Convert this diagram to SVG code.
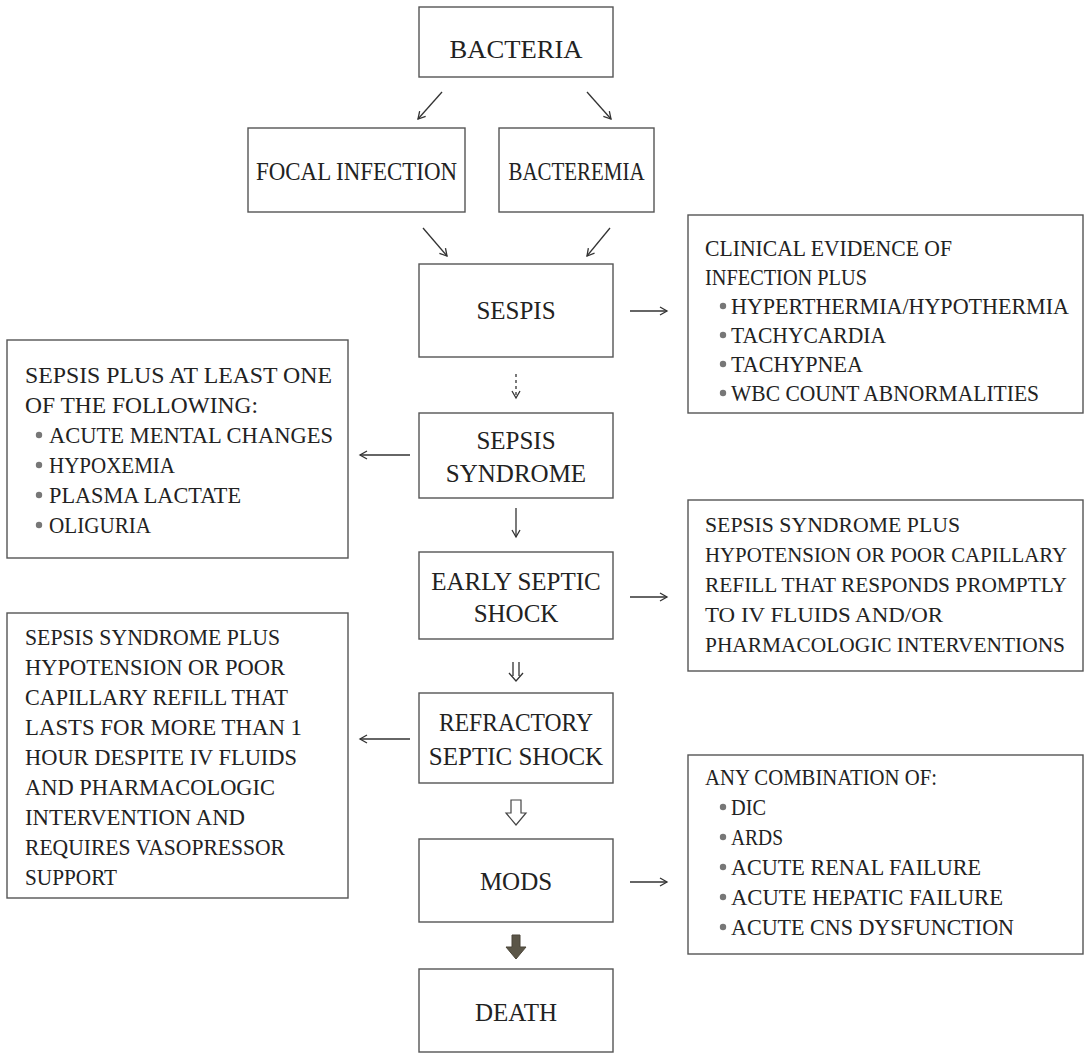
<svg xmlns="http://www.w3.org/2000/svg" width="1086" height="1054" viewBox="0 0 1086 1054">
<defs>
<marker id="ah" markerUnits="userSpaceOnUse" markerWidth="12" markerHeight="12" refX="9" refY="5" orient="auto">
<path d="M2,1 L9,5 L2,9" fill="none" stroke="#333" stroke-width="1.3"/>
</marker>
<style>
.box{fill:#fff;stroke:#555;stroke-width:1.4}
.c{font-family:"Liberation Serif","Times New Roman",serif;font-size:25px;fill:#222;text-anchor:middle}
.t{font-family:"Liberation Serif","Times New Roman",serif;font-size:23px;fill:#222}
.s{font-size:21px}
.b{fill:#777}
.ln{fill:none;stroke:#333;stroke-width:1.3}
</style>
</defs>
<rect width="1086" height="1054" fill="#fff"/>

<g id="bacteria"><rect class="box" x="419" y="7" width="194" height="70"/><text class="c" x="516" y="58" textLength="133" lengthAdjust="spacingAndGlyphs">BACTERIA</text></g>
<g id="focal-infection"><rect class="box" x="248" y="128" width="217" height="84"/><text class="c" x="356.5" y="180" textLength="201" lengthAdjust="spacingAndGlyphs">FOCAL INFECTION</text></g>
<g id="bacteremia"><rect class="box" x="499" y="128" width="155" height="84"/><text class="c" x="576.5" y="180" textLength="136" lengthAdjust="spacingAndGlyphs">BACTEREMIA</text></g>
<g id="sespis"><rect class="box" x="419" y="264" width="194" height="93"/><text class="c" x="516" y="319">SESPIS</text></g>
<g id="sepsis-syndrome"><rect class="box" x="419" y="413" width="194" height="85"/><text class="c" x="516" y="449">SEPSIS</text><text class="c" x="516" y="482">SYNDROME</text></g>
<g id="early-septic-shock"><rect class="box" x="419" y="552" width="194" height="87"/><text class="c" x="516" y="590">EARLY SEPTIC</text><text class="c" x="516" y="622">SHOCK</text></g>
<g id="refractory-septic-shock"><rect class="box" x="419" y="693" width="194" height="90"/><text class="c" x="516" y="731" textLength="154" lengthAdjust="spacingAndGlyphs">REFRACTORY</text><text class="c" x="516" y="765">SEPTIC SHOCK</text></g>
<g id="mods"><rect class="box" x="419" y="839" width="194" height="83"/><text class="c" x="516" y="890">MODS</text></g>
<g id="death"><rect class="box" x="419" y="969" width="194" height="83"/><text class="c" x="516" y="1021">DEATH</text></g>

<g id="sepsis-criteria">
<rect class="box" x="688" y="215" width="395" height="198"/>
<text class="t" x="705" y="256" textLength="247" lengthAdjust="spacingAndGlyphs">CLINICAL EVIDENCE OF</text>
<text class="t" x="705" y="285" textLength="162" lengthAdjust="spacingAndGlyphs">INFECTION PLUS</text>
<circle class="b" cx="723" cy="306" r="3.2"/><text class="t" x="731" y="314" textLength="338" lengthAdjust="spacingAndGlyphs">HYPERTHERMIA/HYPOTHERMIA</text>
<circle class="b" cx="723" cy="335" r="3.2"/><text class="t" x="731" y="343" textLength="155" lengthAdjust="spacingAndGlyphs">TACHYCARDIA</text>
<circle class="b" cx="723" cy="364" r="3.2"/><text class="t" x="731" y="372" textLength="132" lengthAdjust="spacingAndGlyphs">TACHYPNEA</text>
<circle class="b" cx="723" cy="393" r="3.2"/><text class="t" x="731" y="401" textLength="308" lengthAdjust="spacingAndGlyphs">WBC COUNT ABNORMALITIES</text>
</g>

<g id="sepsis-syndrome-criteria">
<rect class="box" x="7" y="340" width="341" height="218"/>
<text class="t" x="25" y="383" textLength="307" lengthAdjust="spacingAndGlyphs">SEPSIS PLUS AT LEAST ONE</text>
<text class="t" x="25" y="413" textLength="233" lengthAdjust="spacingAndGlyphs">OF THE FOLLOWING:</text>
<circle class="b" cx="39" cy="435" r="3.2"/><text class="t" x="49" y="443" textLength="284" lengthAdjust="spacingAndGlyphs">ACUTE MENTAL CHANGES</text>
<circle class="b" cx="39" cy="465" r="3.2"/><text class="t" x="49" y="473" textLength="126" lengthAdjust="spacingAndGlyphs">HYPOXEMIA</text>
<circle class="b" cx="39" cy="495" r="3.2"/><text class="t" x="49" y="503" textLength="192" lengthAdjust="spacingAndGlyphs">PLASMA LACTATE</text>
<circle class="b" cx="39" cy="525" r="3.2"/><text class="t" x="49" y="533" textLength="102" lengthAdjust="spacingAndGlyphs">OLIGURIA</text>
</g>

<g id="early-shock-criteria">
<rect class="box" x="688" y="500" width="395" height="171"/>
<text class="t s" x="705" y="532" textLength="255" lengthAdjust="spacingAndGlyphs">SEPSIS SYNDROME PLUS</text>
<text class="t s" x="705" y="562" textLength="362" lengthAdjust="spacingAndGlyphs">HYPOTENSION OR POOR CAPILLARY</text>
<text class="t s" x="705" y="592" textLength="362" lengthAdjust="spacingAndGlyphs">REFILL THAT RESPONDS PROMPTLY</text>
<text class="t s" x="705" y="622" textLength="238" lengthAdjust="spacingAndGlyphs">TO IV FLUIDS AND/OR</text>
<text class="t s" x="705" y="652" textLength="360" lengthAdjust="spacingAndGlyphs">PHARMACOLOGIC INTERVENTIONS</text>
</g>

<g id="refractory-shock-criteria">
<rect class="box" x="7" y="613" width="341" height="285"/>
<text class="t" x="25" y="645" textLength="255" lengthAdjust="spacingAndGlyphs">SEPSIS SYNDROME PLUS</text>
<text class="t" x="25" y="675" textLength="260" lengthAdjust="spacingAndGlyphs">HYPOTENSION OR POOR</text>
<text class="t" x="25" y="705" textLength="263" lengthAdjust="spacingAndGlyphs">CAPILLARY REFILL THAT</text>
<text class="t" x="25" y="735" textLength="277" lengthAdjust="spacingAndGlyphs">LASTS FOR MORE THAN 1</text>
<text class="t" x="25" y="765" textLength="272" lengthAdjust="spacingAndGlyphs">HOUR DESPITE IV FLUIDS</text>
<text class="t" x="25" y="795" textLength="250" lengthAdjust="spacingAndGlyphs">AND PHARMACOLOGIC</text>
<text class="t" x="25" y="825" textLength="220" lengthAdjust="spacingAndGlyphs">INTERVENTION AND</text>
<text class="t" x="25" y="855" textLength="260" lengthAdjust="spacingAndGlyphs">REQUIRES VASOPRESSOR</text>
<text class="t" x="25" y="885" textLength="92" lengthAdjust="spacingAndGlyphs">SUPPORT</text>
</g>

<g id="mods-criteria">
<rect class="box" x="688" y="755" width="395" height="199"/>
<text class="t" x="705" y="785" textLength="232" lengthAdjust="spacingAndGlyphs">ANY COMBINATION OF:</text>
<circle class="b" cx="723" cy="807" r="3.2"/><text class="t" x="731" y="815" textLength="35" lengthAdjust="spacingAndGlyphs">DIC</text>
<circle class="b" cx="723" cy="837" r="3.2"/><text class="t" x="731" y="845" textLength="52" lengthAdjust="spacingAndGlyphs">ARDS</text>
<circle class="b" cx="723" cy="867" r="3.2"/><text class="t" x="731" y="875" textLength="250" lengthAdjust="spacingAndGlyphs">ACUTE RENAL FAILURE</text>
<circle class="b" cx="723" cy="897" r="3.2"/><text class="t" x="731" y="905" textLength="272" lengthAdjust="spacingAndGlyphs">ACUTE HEPATIC FAILURE</text>
<circle class="b" cx="723" cy="927" r="3.2"/><text class="t" x="731" y="935" textLength="283" lengthAdjust="spacingAndGlyphs">ACUTE CNS DYSFUNCTION</text>
</g>

<g id="connectors">
<line class="ln" x1="442" y1="92" x2="418" y2="119" marker-end="url(#ah)"/>
<line class="ln" x1="587" y1="92" x2="611" y2="119" marker-end="url(#ah)"/>
<line class="ln" x1="423" y1="228" x2="447" y2="256" marker-end="url(#ah)"/>
<line class="ln" x1="610" y1="228" x2="587" y2="256" marker-end="url(#ah)"/>
<line class="ln" x1="630" y1="311" x2="667" y2="311" marker-end="url(#ah)"/>
<line class="ln" x1="516" y1="374" x2="516" y2="398" stroke-dasharray="3,3" marker-end="url(#ah)"/>
<line class="ln" x1="410" y1="455" x2="360" y2="455" marker-end="url(#ah)"/>
<line class="ln" x1="516" y1="508" x2="516" y2="537" marker-end="url(#ah)"/>
<line class="ln" x1="630" y1="597" x2="667" y2="597" marker-end="url(#ah)"/>
<path class="ln" d="M513,662 V676 M519,662 V676 M509,673 L516,681 L523,673"/>
<line class="ln" x1="410" y1="739" x2="360" y2="739" marker-end="url(#ah)"/>
<path d="M511,800 H521 V813 H526 L516,825 L506,813 H511 Z" fill="#fff" stroke="#444" stroke-width="1.2"/>
<line class="ln" x1="630" y1="882" x2="667" y2="882" marker-end="url(#ah)"/>
<path d="M512,935 H520 V947 H526 L516,959 L506,947 H512 Z" fill="#5b5648" stroke="#4a4538" stroke-width="1"/>
</g>
</svg>
